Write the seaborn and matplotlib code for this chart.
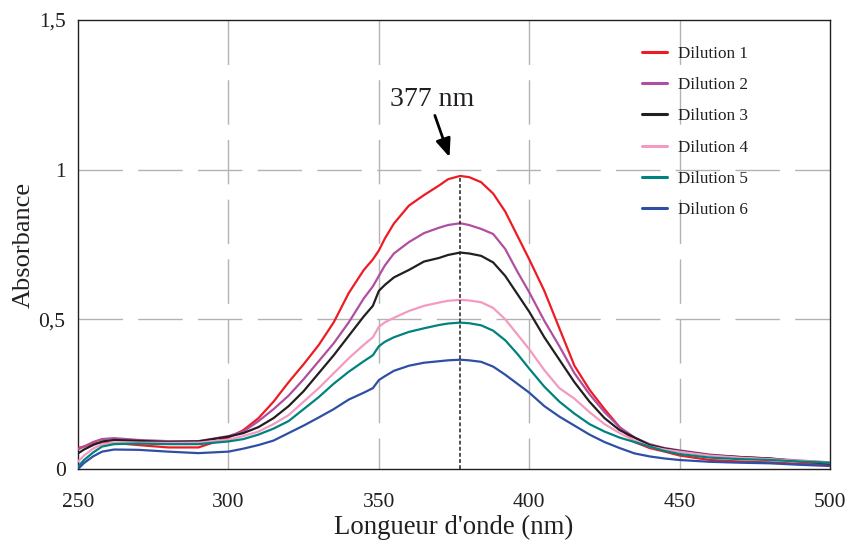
import numpy as np
import pandas as pd
import matplotlib
matplotlib.use("Agg")
import matplotlib.pyplot as plt
import seaborn as sns

wavelength = [250, 252, 255, 258, 262, 270, 280, 290, 300, 305, 310, 315, 320, 325, 330, 335,
              340, 345, 348, 350, 352, 355, 360, 365, 370, 373, 377, 380, 384, 388, 392, 396,
              400, 405, 410, 415, 420, 425, 430, 435, 440, 445, 450, 460, 470, 480, 490, 500]

dilution1 = [0.07, 0.075, 0.085, 0.088, 0.087, 0.08, 0.072, 0.072, 0.105, 0.13, 0.17, 0.225, 0.29, 0.35, 0.414, 0.49,
             0.588, 0.665, 0.70, 0.73, 0.77, 0.82, 0.88, 0.915, 0.947, 0.968, 0.979, 0.975, 0.958, 0.92, 0.86, 0.78,
             0.70, 0.595, 0.47, 0.345, 0.265, 0.2, 0.14, 0.09, 0.07, 0.058, 0.045, 0.03, 0.025, 0.022, 0.017, 0.013]
dilution2 = [0.065, 0.075, 0.09, 0.1, 0.103, 0.097, 0.093, 0.093, 0.11, 0.125, 0.16, 0.2, 0.245, 0.3, 0.36, 0.42,
             0.49, 0.57, 0.61, 0.645, 0.68, 0.72, 0.758, 0.788, 0.806, 0.815, 0.821, 0.815, 0.802, 0.785, 0.735, 0.66,
             0.59, 0.495, 0.41, 0.32, 0.25, 0.19, 0.14, 0.105, 0.083, 0.07, 0.062, 0.048, 0.04, 0.035, 0.028, 0.022]
dilution3 = [0.052, 0.065, 0.08, 0.092, 0.097, 0.094, 0.09, 0.092, 0.108, 0.12, 0.14, 0.17, 0.21, 0.26, 0.32, 0.38,
             0.445, 0.51, 0.545, 0.595, 0.615, 0.64, 0.665, 0.693, 0.705, 0.715, 0.723, 0.72, 0.712, 0.69, 0.645, 0.585,
             0.525, 0.44, 0.365, 0.29, 0.225, 0.17, 0.13, 0.105, 0.08, 0.068, 0.06, 0.046, 0.04, 0.035, 0.025, 0.018]
dilution4 = [0.025, 0.045, 0.068, 0.083, 0.088, 0.088, 0.087, 0.088, 0.098, 0.11, 0.125, 0.15, 0.18, 0.225, 0.27, 0.32,
             0.37, 0.415, 0.44, 0.475, 0.49, 0.505, 0.528, 0.545, 0.556, 0.562, 0.565, 0.563, 0.557, 0.538, 0.5, 0.45,
             0.4, 0.33, 0.27, 0.235, 0.19, 0.15, 0.12, 0.095, 0.075, 0.065, 0.058, 0.045, 0.038, 0.033, 0.027, 0.022]
dilution5 = [0.008, 0.03, 0.055, 0.075, 0.083, 0.085, 0.083, 0.083, 0.092, 0.1, 0.115, 0.135, 0.16, 0.2, 0.24, 0.285,
             0.325, 0.36, 0.38, 0.41, 0.425, 0.44, 0.458, 0.47, 0.481, 0.486, 0.489, 0.487, 0.48, 0.462, 0.43, 0.385,
             0.335, 0.275, 0.225, 0.185, 0.15, 0.125, 0.105, 0.09, 0.075, 0.06, 0.05, 0.038, 0.033, 0.03, 0.025, 0.021]
dilution6 = [0.0, 0.02, 0.042, 0.058, 0.065, 0.064, 0.058, 0.053, 0.058, 0.068, 0.08, 0.095, 0.12, 0.145, 0.172, 0.2,
             0.232, 0.255, 0.27, 0.297, 0.31, 0.328, 0.345, 0.355, 0.36, 0.363, 0.365, 0.363, 0.358, 0.342, 0.315, 0.285,
             0.255, 0.21, 0.175, 0.145, 0.115, 0.09, 0.07, 0.052, 0.042, 0.035, 0.03, 0.024, 0.021, 0.019, 0.014, 0.01]

series_names = ["Dilution 1", "Dilution 2", "Dilution 3", "Dilution 4", "Dilution 5", "Dilution 6"]
series_colors = ["#ED1C24", "#B04FA0", "#231F20", "#F49AC1", "#00827F", "#2E4FA3"]

x_ticks = [250, 300, 350, 400, 450, 500]
y_ticks = [0, 0.5, 1, 1.5]
y_tick_labels = ["0", "0,5", "1", "1,5"]
x_grid = [300, 350, 400, 450]
y_grid = [0.5, 1.0]

peak_wavelength = 377
peak_value = 0.979
peak_label = "377 nm"

sns.set_style("white")
plt.rcParams["font.family"] = ["Liberation Serif", "DejaVu Serif"]

frames = []
for name, vals in zip(series_names, [dilution1, dilution2, dilution3, dilution4, dilution5, dilution6]):
    frames.append(pd.DataFrame({"wl": wavelength, "abs": vals, "serie": name}))
df = pd.concat(frames, ignore_index=True)

fig = plt.figure(figsize=(8.47, 5.40), dpi=100)
ax = fig.add_axes([0.0921, 0.1315, 0.888, 0.8315])

sns.lineplot(data=df, x="wl", y="abs", hue="serie", hue_order=series_names,
             palette=series_colors, linewidth=1.6, ax=ax, legend=True, zorder=3)

ax.set_xlim(250, 500)
ax.set_ylim(0, 1.5)
ax.set_xticks(x_ticks)
ax.set_xticklabels([str(t) for t in x_ticks])
ax.set_yticks(y_ticks)
ax.set_yticklabels(y_tick_labels)
ax.tick_params(axis="both", direction="out", length=5, width=1, color="#231F20",
               labelsize=15.5, labelcolor="#231F20", pad=4)
ax.tick_params(axis="x", pad=12)

for s in ax.spines.values():
    s.set_color("#231F20")
    s.set_linewidth(1.0)
    s.set_visible(True)

# dashed grid: vertical lines drawn from top to bottom, horizontal from left to right
grid_style = dict(colors="#B3B3B3", linewidth=1.0, linestyles=[(0, (32, 11))], zorder=0)
ax.vlines(x_grid, 1.5, 0, **grid_style)
ax.hlines(y_grid, 250, 500, **grid_style)

ax.set_xlabel("Longueur d'onde (nm)", fontsize=19.3, color="#231F20", labelpad=2)
ax.set_ylabel("Absorbance", fontsize=19.0, color="#231F20", labelpad=3)

ax.plot([peak_wavelength, peak_wavelength], [0, peak_value], color="#231F20",
        linewidth=1.1, linestyle=(0, (2.5, 1.5)), zorder=4)

ax.annotate("", xy=(373.8, 1.033), xytext=(368.3, 1.19),
            arrowprops=dict(arrowstyle="-|>,head_length=1.1,head_width=0.45", color="black", lw=2.0),
            zorder=5)
ax.text(367.8, 1.233, peak_label, fontsize=20, ha="center", va="center", color="#231F20")

leg = ax.legend(loc="upper left", bbox_to_anchor=(633 / 847, 1 - 37 / 540),
                bbox_transform=fig.transFigure, frameon=False, fontsize=12.3,
                handlelength=1.5, handletextpad=0.65, labelspacing=0.9, borderpad=0)
for t in leg.get_texts():
    t.set_color("#231F20")
for h in leg.get_lines():
    h.set_linewidth(2.2)

fig.savefig("out.png", dpi=100)
